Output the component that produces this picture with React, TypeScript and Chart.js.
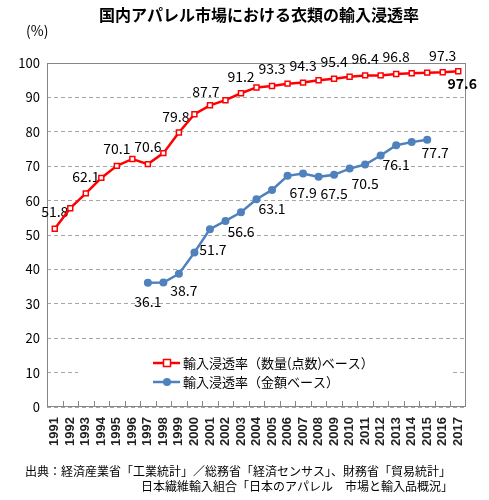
import { useEffect, useRef } from 'react'
import { Chart, ChartConfiguration, Plugin, registerables } from 'chart.js'

Chart.register(...registerables)

// 年
const years = [
  '1991', '1992', '1993', '1994', '1995', '1996', '1997', '1998', '1999',
  '2000', '2001', '2002', '2003', '2004', '2005', '2006', '2007', '2008',
  '2009', '2010', '2011', '2012', '2013', '2014', '2015', '2016', '2017',
]

// 輸入浸透率（数量(点数)ベース）
const quantityRate = [
  51.8, 57.8, 62.1, 66.6, 70.1, 72.1, 70.6, 73.8, 79.8, 85.1, 87.7, 89.2, 91.2, 92.9,
  93.3, 94.0, 94.3, 95.0, 95.4, 96.0, 96.4, 96.4, 96.8, 97.0, 97.2, 97.3, 97.6,
]

// 輸入浸透率（金額ベース）
const valueRate = [
  null, null, null, null, null, null, 36.1, 36.2, 38.7, 44.9, 51.7, 54.1, 56.6, 60.4,
  63.1, 67.2, 67.9, 66.9, 67.5, 69.3, 70.5, 73.1, 76.1, 77.0, 77.7, null, null,
]

const yTicks = [0, 10, 20, 30, 40, 50, 60, 70, 80, 90, 100]

const seriesNames = ['輸入浸透率（数量(点数)ベース）', '輸入浸透率（金額ベース）']

// 値ラベルを付ける点
const quantityLabelIdx = [0, 2, 4, 6, 8, 10, 12, 14, 16, 18, 20, 22, 25, 26]
const valueLabelIdx = [6, 8, 10, 12, 14, 16, 18, 20, 22, 24]

const RED = '#ff0000'
const BLUE = '#4f81bd'
const FONT = '"Noto Sans CJK JP", "Noto Sans", sans-serif'

const labelOffset = (ds: number, i: number): [number, number, boolean] => {
  if (ds === 0) {
    if (i === 26) return [4, 12, true]
    if (i === 8) return [-3, -16, false]
    if (i === 10) return [-4, -14, false]
    return [0, -17, false]
  }
  if (i === 8) return [5, 17, false]
  if (i === 10) return [3, 21, false]
  if (i === 24) return [8, 13, false]
  return [0, 19, false]
}

const framePlugin: Plugin = {
  id: 'frame',
  beforeDatasetsDraw(chart) {
    const { ctx, chartArea: a } = chart
    const x = chart.scales.x
    ctx.save()
    ctx.strokeStyle = '#868686'
    ctx.lineWidth = 1
    ctx.strokeRect(a.left + 0.5, a.top + 0.5, a.width - 1, a.height - 1)
    const step = a.width / years.length
    for (let k = 1; k < years.length; k++) {
      const px = Math.round(x.left + k * step) + 0.5
      ctx.beginPath()
      ctx.moveTo(px, a.bottom)
      ctx.lineTo(px, a.bottom - 6)
      ctx.stroke()
    }

    // 凡例
    ctx.fillStyle = '#fff'
    ctx.fillRect(78, 346, 374, 46)
    const rows: [string, string, boolean][] = [
      [seriesNames[0], RED, true],
      [seriesNames[1], BLUE, false],
    ]
    rows.forEach(([name, color, square], r) => {
      const y = 363 + r * 19
      ctx.strokeStyle = color
      ctx.lineWidth = 2.5
      ctx.beginPath()
      ctx.moveTo(153, y)
      ctx.lineTo(180, y)
      ctx.stroke()
      if (square) {
        ctx.fillStyle = '#fff'
        ctx.lineWidth = 1.5
        ctx.fillRect(163.5, y - 3.5, 7, 7)
        ctx.strokeRect(163.5, y - 3.5, 7, 7)
      } else {
        ctx.fillStyle = color
        ctx.beginPath()
        ctx.arc(167, y, 4, 0, Math.PI * 2)
        ctx.fill()
      }
      ctx.fillStyle = '#000'
      ctx.font = `13px ${FONT}`
      ctx.textAlign = 'left'
      ctx.textBaseline = 'middle'
      ctx.fillText(name, 183, y)
    })

    // 値ラベル
    const lists = [quantityLabelIdx, valueLabelIdx]
    lists.forEach((idx, ds) => {
      const meta = chart.getDatasetMeta(ds)
      const values = chart.data.datasets[ds].data as (number | null)[]
      idx.forEach((i) => {
        const el = meta.data[i]
        const v = values[i]
        if (!el || v == null) return
        const [dx, dy, bold] = labelOffset(ds, i)
        ctx.font = `${bold ? 'bold ' : ''}14px ${FONT}`
        ctx.fillStyle = '#000'
        ctx.textAlign = 'center'
        ctx.textBaseline = 'middle'
        ctx.fillText(v.toFixed(1), el.x + dx, el.y + dy)
      })
    })
    ctx.restore()
  },
}

const textPlugin: Plugin = {
  id: 'texts',
  afterDraw(chart) {
    const { ctx } = chart
    ctx.save()
    ctx.fillStyle = '#000'
    ctx.textBaseline = 'middle'
    ctx.textAlign = 'center'
    ctx.font = `bold 16px ${FONT}`
    ctx.fillText('国内アパレル市場における衣類の輸入浸透率', 259, 15)
    ctx.textAlign = 'left'
    ctx.font = `14px ${FONT}`
    ctx.fillText('(%)', 26, 31)
    ctx.font = `12px ${FONT}`
    ctx.fillText('出典：経済産業省「工業統計」／総務省「経済センサス」、財務省「貿易統計」', 25, 471)
    ctx.textAlign = 'right'
    ctx.fillText('日本繊維輸入組合「日本のアパレル　市場と輸入品概況」', 453, 486)
    ctx.restore()
  },
}

export default function App() {
  const canvasRef = useRef<HTMLCanvasElement>(null)
  const chartRef = useRef<Chart | null>(null)

  useEffect(() => {
    document.body.style.margin = '0'
    if (!canvasRef.current) return
    const ctx = canvasRef.current.getContext('2d')
    if (!ctx) return

    if (chartRef.current) {
      chartRef.current.destroy()
    }

    const config: ChartConfiguration = {
      type: 'line',
      data: {
        labels: years,
        datasets: [
          {
            label: seriesNames[0],
            data: quantityRate,
            borderColor: RED,
            borderWidth: 2.5,
            pointStyle: 'rect',
            pointRadius: 3.5,
            pointBorderWidth: 1.5,
            pointBackgroundColor: '#fff',
            pointBorderColor: RED,
            tension: 0,
          },
          {
            label: seriesNames[1],
            data: valueRate,
            borderColor: BLUE,
            borderWidth: 2.5,
            pointStyle: 'circle',
            pointRadius: 4,
            pointBorderWidth: 0,
            pointBackgroundColor: BLUE,
            pointBorderColor: BLUE,
            tension: 0,
          },
        ],
      },
      options: {
        responsive: true,
        maintainAspectRatio: false,
        animation: false,
        layout: { padding: { top: 63, right: 23, left: 0, bottom: 0 } },
        plugins: {
          legend: { display: false },
          title: { display: false },
          tooltip: { enabled: false },
        },
        scales: {
          x: {
            offset: true,
            grid: { display: false, drawTicks: false },
            border: { display: false },
            ticks: {
              minRotation: 90,
              maxRotation: 90,
              autoSkip: false,
              padding: 10,
              color: '#222',
              font: { family: '"Liberation Sans", sans-serif', size: 13, weight: 'bold' },
            },
            afterFit: (s) => {
              s.height = 93
            },
          },
          y: {
            min: 0,
            max: 100,
            afterBuildTicks: (s) => {
              s.ticks = yTicks.map((v) => ({ value: v }))
            },
            grid: { color: '#a6a6a6', drawTicks: false, lineWidth: 1 },
            border: { display: false, dash: [4, 3] },
            ticks: {
              padding: 7,
              color: '#000',
              font: { family: FONT, size: 13 },
            },
            afterFit: (s) => {
              s.width = 47
            },
          },
        },
      },
      plugins: [framePlugin, textPlugin],
    }

    chartRef.current = new Chart(ctx, config)

    return () => {
      chartRef.current?.destroy()
    }
  }, [])

  return (
    <div style={{ width: 489, height: 500, position: 'relative' }}>
      <canvas ref={canvasRef} />
    </div>
  )
}
